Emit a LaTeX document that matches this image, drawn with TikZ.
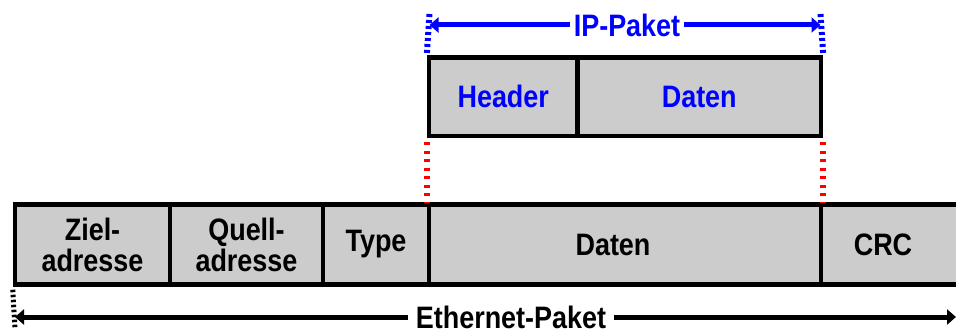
\documentclass[tikz,border=0pt]{standalone}
\usepackage{fontspec}
\setmainfont{Liberation Sans}[FakeStretch=0.87]
\usetikzlibrary{arrows.meta}
\definecolor{cellgray}{RGB}{204,204,204}
\tikzset{
  cell/.style={draw=black, line width=4.5pt, fill=cellgray, inner sep=0pt,
    minimum height=80pt, align=center,
    font=\fontsize{31}{31}\selectfont\bfseries},
  ipcell/.style={cell, minimum height=78.5pt, text=blue},
  span/.style={line width=5pt,
    {Triangle[length=9pt,width=15pt]}-{Triangle[length=9pt,width=15pt]}},
  spanlabel/.style={fill=white, inner ysep=2pt, inner xsep=4pt,
    font=\fontsize{31}{31}\selectfont\bfseries},
  guide/.style={line width=6pt},
}
\begin{document}
\begin{tikzpicture}[x=1pt, y=-1pt]
\useasboundingbox (0,0) rectangle (956,329);
\clip (0,0) rectangle (956,329);

% Ethernet frame fields
\node[cell, minimum width=155pt] (ziel)  at (92.5,244.5)  {Ziel-\\adresse};
\node[cell, minimum width=153pt] (quell) at (246.5,244.5) {Quell-\\adresse};
\node[cell, minimum width=106pt] (type)  at (376,244.5)   {Type};
\node[cell, minimum width=392pt] (edata) at (625,244.5)   {Daten\hspace*{24pt}};
\node[cell, minimum width=154pt] (crc)   at (898,244.5)   {CRC\hspace*{30pt}};

% IP packet fields
\node[ipcell, minimum width=148.5pt] (hdr)   at (503.25,96.75) {Header};
\node[ipcell, minimum width=243.5pt] (idata) at (699.25,96.75) {Daten};

% guide lines from the IP packet down to the Ethernet data field
\draw[guide, red, dash pattern=on 3pt off 5.5pt] (hdr.south west) ++(0,4) coordinate (rl1) (rl1) -- (edata.north west);
\draw[guide, red, dash pattern=on 3pt off 5.5pt] (idata.south east) ++(0,4) coordinate (rr1) (rr1) -- (edata.north east);

% IP packet extent
\coordinate (ipL) at (429.5,25);
\coordinate (ipR) at (820.5,25);
\draw[guide, blue, dash pattern=on 3pt off 3pt] (429.5,14) -- (hdr.north west);
\draw[guide, blue, dash pattern=on 3pt off 3pt] (820.5,14) -- (idata.north east);
\draw[span, blue] (ipL) -- (ipR);
\node[spanlabel, text=blue] (iplabel) at (627,25) {IP-Paket};

% Ethernet frame extent
\coordinate (ethL) at (15,317);
\coordinate (ethR) at (956,317);
\draw[guide, black, line width=5pt, dash pattern=on 2.5pt off 2.5pt] (ziel.south west) ++(0,3) coordinate (el1) (el1) -- (15,329);
\draw[span, black] (ethL) -- (ethR);
\node[spanlabel, inner xsep=8pt] (ethlabel) at (511,317) {Ethernet-Paket};
\end{tikzpicture}
\end{document}
